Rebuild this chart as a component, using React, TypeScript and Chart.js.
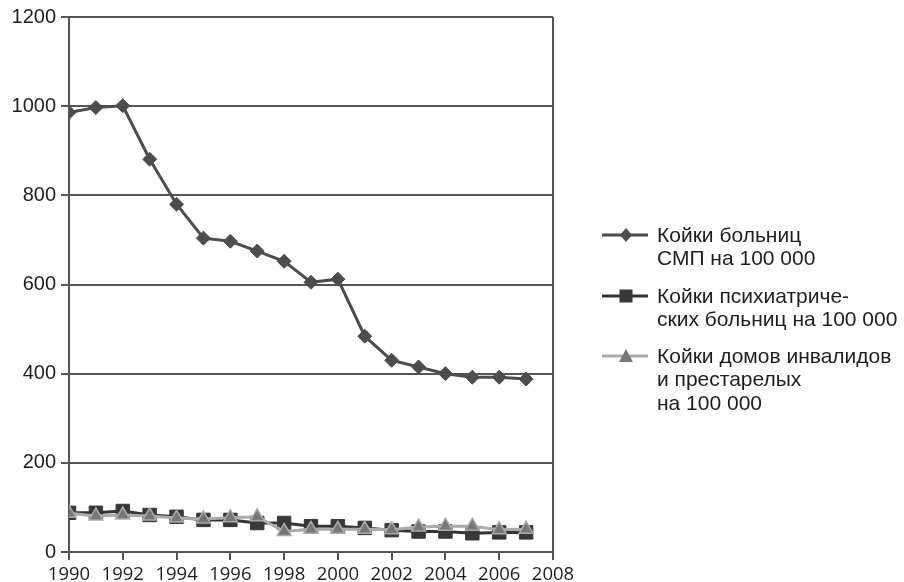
import React, { useEffect, useRef } from "react";
import { Chart, registerables } from "chart.js";

Chart.register(...registerables);

const years = [1990, 1991, 1992, 1993, 1994, 1995, 1996, 1997, 1998, 1999, 2000, 2001, 2002, 2003, 2004, 2005, 2006, 2007];
const hospitalBeds = [986, 997, 1001, 881, 780, 704, 697, 675, 652, 605, 612, 484, 430, 415, 400, 392, 392, 388];
const psychBeds = [88, 88, 92, 83, 79, 72, 72, 65, 65, 58, 58, 54, 49, 46, 46, 42, 44, 44];
const careHomeBeds = [87, 81, 83, 81, 76, 74, 77, 79, 46, 51, 51, 51, 50, 56, 58, 58, 50, 51];
const legendLabels = [
  ["Койки больниц", "СМП на 100 000"],
  ["Койки психиатриче-", "ских больниц на 100 000"],
  ["Койки домов инвалидов", "и престарелых", "на 100 000"],
];

const AXIS = "#555555";

export default function App() {
  const ref = useRef<HTMLCanvasElement | null>(null);
  useEffect(() => {
    if (!ref.current) return;
    const styles = [
      { line: "#4d4d4d", fill: "#4d4d4d", border: "#4d4d4d", style: "rectRot", r: 7, bw: 1 },
      { line: "#333333", fill: "#383838", border: "#383838", style: "rect", r: 9.5, bw: 1 },
      { line: "#aaaaaa", fill: "#777777", border: "#aaaaaa", style: "triangle", r: 8, bw: 1.5 },
    ];
    const legendPlugin = {
      id: "customLegend",
      afterDraw(chart: any) {
        const ctx = chart.ctx;
        const rows = [235, 296, 356];
        ctx.save();
        legendLabels.forEach((lines, i) => {
          const y = rows[i];
          const s = styles[i];
          ctx.strokeStyle = s.line;
          ctx.lineWidth = 3;
          ctx.beginPath();
          ctx.moveTo(602, y);
          ctx.lineTo(648, y);
          ctx.stroke();
          ctx.fillStyle = s.fill;
          if (s.style === "rectRot") {
            ctx.beginPath();
            ctx.moveTo(626, y - 7);
            ctx.lineTo(632, y);
            ctx.lineTo(626, y + 7);
            ctx.lineTo(620, y);
            ctx.closePath();
            ctx.fill();
          } else if (s.style === "rect") {
            ctx.fillRect(619.5, y - 6.5, 13, 13);
          } else {
            ctx.beginPath();
            ctx.moveTo(626, y - 7);
            ctx.lineTo(633, y + 6);
            ctx.lineTo(619, y + 6);
            ctx.closePath();
            ctx.fill();
          }
          ctx.fillStyle = "#1e1e1e";
          ctx.font = "21px 'Liberation Sans', Arial, sans-serif";
          ctx.textBaseline = "middle";
          ctx.textAlign = "left";
          lines.forEach((t, j) => ctx.fillText(t, 657, y + 1 + j * 23.5));
        });
        ctx.restore();
      },
    };
    const mk = (vals: number[], i: number, order: number) => ({
      label: legendLabels[i].join(" "),
      data: years.map((x, k) => ({ x, y: vals[k] })),
      borderColor: styles[i].line,
      backgroundColor: styles[i].fill,
      pointBorderColor: styles[i].border,
      pointBackgroundColor: styles[i].fill,
      pointStyle: styles[i].style,
      pointRadius: styles[i].r,
      pointBorderWidth: styles[i].bw,
      borderWidth: 3,
      tension: 0,
      order,
    });
    const chart = new Chart(ref.current, {
      type: "line",
      data: {
        datasets: [mk(hospitalBeds, 0, 2), mk(psychBeds, 1, 1), mk(careHomeBeds, 2, 0)],
      },
      options: {
        animation: false,
        responsive: false,
        maintainAspectRatio: false,
        layout: { padding: { left: 0, right: 351, top: 17, bottom: 0 } },
        plugins: { legend: { display: false }, tooltip: { enabled: false } },
        scales: {
          x: {
            type: "linear",
            min: 1990,
            max: 2008,
            ticks: {
              stepSize: 2,
              color: "#1e1e1e",
              font: { family: "'Open Sans', 'Liberation Sans', sans-serif", size: 18.5 },
              callback: (v: any) => String(v),
              maxRotation: 0,
              autoSkip: false,
              padding: 4,
            },
            grid: {
              color: (c: any) => (c.tick && (c.tick.value === 1990 || c.tick.value === 2008) ? AXIS : "rgba(0,0,0,0)"),
              tickColor: AXIS,
              lineWidth: 2,
              tickLength: 8,
            },
            border: { color: AXIS, width: 2 },
            afterFit: (s: any) => { s.height = 30; },
          },
          y: {
            min: 0,
            max: 1200,
            ticks: {
              stepSize: 200,
              color: "#1e1e1e",
              font: { family: "'Liberation Sans', Arial, sans-serif", size: 20 },
              callback: (v: any) => String(v),
              padding: 5,
            },
            grid: { color: AXIS, lineWidth: 2, tickLength: 8, tickColor: AXIS },
            border: { color: AXIS, width: 2 },
            afterFit: (s: any) => { s.width = 69; },
          },
        },
      },
      plugins: [legendPlugin],
    } as any);
    return () => chart.destroy();
  }, []);
  return (
    <div style={{ position: "fixed", left: 0, top: 0, width: 904, height: 582, background: "#fff" }}>
      <canvas ref={ref} width={904} height={582} style={{ width: 904, height: 582 }} />
    </div>
  );
}
